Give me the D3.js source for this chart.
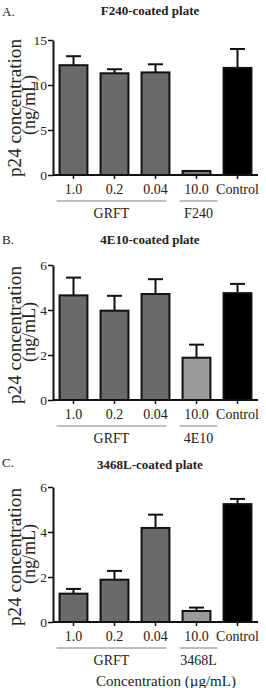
<!DOCTYPE html>
<html>
<head>
<meta charset="utf-8">
<script src="https://cdn.jsdelivr.net/npm/d3@7"></script>
<style>
  body { margin: 0; background: #fff; }
  svg { display: block; font-family: 'Liberation Serif', 'DejaVu Serif', serif; }
</style>
</head>
<body>
<div id="wrapper"></div>
<script>
// 1. Data
const categories = ['1.0', '0.2', '0.04', '10.0', 'Control']
const panelLetters = ['A.', 'B.', 'C.']
const panelTitles = ['F240-coated plate', '4E10-coated plate', '3468L-coated plate']
const inhibitorNames = ['F240', '4E10', '3468L']
const yMaxes = [15, 6, 6]
const yTickValues = [[0, 5, 10, 15], [0, 2, 4, 6], [0, 2, 4, 6]]

const meansA = [12.2, 11.3, 11.4, 0.45, 11.9]
const errorsA = [1.0, 0.45, 0.9, 0, 2.1]
const meansB = [4.65, 3.97, 4.71, 1.88, 4.75]
const errorsB = [0.79, 0.66, 0.66, 0.58, 0.41]
const meansC = [1.26, 1.88, 4.18, 0.49, 5.24]
const errorsC = [0.21, 0.39, 0.59, 0.15, 0.23]

const allMeans = [meansA, meansB, meansC]
const allErrors = [errorsA, errorsB, errorsC]

// 2. Dimensions
const dimensions = {
  width: 266,
  height: 688,
  axisLeft: 53,
  axisRight: 258,
}
// y-axis top / bottom, title and letter baselines, y-label centre, per panel
const panels = [
  { top: 40, bottom: 175, titleY: 15, letterY: 16, labelY: 108 },
  { top: 265, bottom: 400, titleY: 244, letterY: 244, labelY: 335 },
  { top: 487, bottom: 622, titleY: 469, letterY: 467, labelY: 557 },
]

const barFill = (i, p) => {
  if (i === 4) return '#000'
  if (i === 3) return p === 0 ? '#7a7a7a' : '#9a9a9a'
  return '#6a6a6a'
}

// 3. Canvas
const wrapper = d3
  .select('#wrapper')
  .append('svg')
  .attr('width', dimensions.width)
  .attr('height', dimensions.height)

const xScale = d3
  .scaleBand()
  .domain(categories)
  .range([dimensions.axisLeft, dimensions.axisRight])
  .paddingInner(0.32)
  .paddingOuter(0.16)

panels.forEach((panel, p) => {
  const means = allMeans[p]
  const errors = allErrors[p]
  const g = wrapper.append('g')

  const yScale = d3
    .scaleLinear()
    .domain([0, yMaxes[p]])
    .range([panel.bottom, panel.top])

  // title and panel letter
  g.append('text')
    .attr('x', 2)
    .attr('y', panel.letterY)
    .attr('font-size', 13)
    .attr('fill', '#222')
    .text(panelLetters[p])

  g.append('text')
    .attr('x', 150)
    .attr('y', panel.titleY)
    .attr('text-anchor', 'middle')
    .attr('font-size', 13)
    .attr('font-weight', 'bold')
    .attr('fill', '#222')
    .text(panelTitles[p])

  // 4. Bars
  const barData = categories.map((c, i) => ({ c, i, mean: means[i], err: errors[i] }))

  g.selectAll('.err')
    .data(barData.filter((d) => d.err > 0))
    .join('g')
    .each(function (d) {
      const cx = xScale(d.c) + xScale.bandwidth() / 2
      const sel = d3.select(this)
      sel.append('line')
        .attr('x1', cx).attr('x2', cx)
        .attr('y1', yScale(d.mean)).attr('y2', yScale(d.mean + d.err))
        .attr('stroke', '#111').attr('stroke-width', 2)
      sel.append('line')
        .attr('x1', cx - 7.5).attr('x2', cx + 7.5)
        .attr('y1', yScale(d.mean + d.err)).attr('y2', yScale(d.mean + d.err))
        .attr('stroke', '#111').attr('stroke-width', 2)
    })

  g.selectAll('.bar')
    .data(barData)
    .join('rect')
    .attr('x', (d) => xScale(d.c))
    .attr('width', xScale.bandwidth())
    .attr('y', (d) => yScale(d.mean))
    .attr('height', (d) => yScale(0) - yScale(d.mean))
    .attr('fill', (d) => barFill(d.i, p))
    .attr('stroke', '#111')
    .attr('stroke-width', 2)

  // 5. Axes
  const yAxis = g
    .append('g')
    .attr('transform', `translate(${dimensions.axisLeft},0)`)
    .call(
      d3.axisLeft(yScale)
        .tickValues(yTickValues[p])
        .tickFormat(d3.format('d'))
        .tickSize(5)
        .tickSizeOuter(0)
        .tickPadding(1),
    )
  yAxis.select('.domain').attr('stroke', '#111').attr('stroke-width', 2)
  yAxis.selectAll('.tick line').attr('stroke', '#111').attr('stroke-width', 1.5)
  yAxis.selectAll('.tick text').attr('font-size', 13.5).attr('fill', '#222')
    .attr('font-family', "'Liberation Serif', serif")

  const xAxis = g
    .append('g')
    .attr('transform', `translate(0,${panel.bottom})`)
    .call(d3.axisBottom(xScale).tickSize(4).tickSizeOuter(0).tickPadding(5))
  xAxis.select('.domain')
    .attr('d', `M${dimensions.axisLeft},0H${dimensions.axisRight}`)
    .attr('stroke', '#111').attr('stroke-width', 2)
  xAxis.selectAll('.tick line').attr('stroke', '#111').attr('stroke-width', 1.5)
  xAxis.selectAll('.tick text').attr('font-size', 14).attr('fill', '#222')
    .attr('font-family', "'Liberation Serif', serif")

  // group underlines
  const groups = [
    { name: 'GRFT', from: categories[0], to: categories[2] },
    { name: inhibitorNames[p], from: categories[3], to: categories[3] },
  ]
  groups.forEach((grp) => {
    const x1 = xScale(grp.from) - 3
    const x2 = xScale(grp.to) + xScale.bandwidth() + (grp.from === grp.to ? 7 : -3)
    g.append('line')
      .attr('x1', x1).attr('x2', x2)
      .attr('y1', panel.bottom + 26).attr('y2', panel.bottom + 26)
      .attr('stroke', '#aaa').attr('stroke-width', 1.5)
    g.append('text')
      .attr('x', (x1 + x2) / 2)
      .attr('y', panel.bottom + 43)
      .attr('text-anchor', 'middle')
      .attr('font-size', 14)
      .attr('fill', '#222')
      .text(grp.name)
  })

  // y label
  g.append('text')
    .attr('transform', `translate(20.5,${panel.labelY}) rotate(-90)`)
    .attr('text-anchor', 'middle')
    .attr('font-size', 19)
    .attr('fill', '#222')
    .attr('textLength', 138)
    .attr('lengthAdjust', 'spacingAndGlyphs')
    .text('p24 concentration')
  g.append('text')
    .attr('transform', `translate(34.5,${panel.labelY - 3}) rotate(-90)`)
    .attr('text-anchor', 'middle')
    .attr('font-size', 18)
    .attr('fill', '#222')
    .text('(ng/mL)')
})

// shared x label
wrapper.append('text')
  .attr('x', 166)
  .attr('y', 686)
  .attr('text-anchor', 'middle')
  .attr('font-size', 15)
  .attr('fill', '#222')
  .text('Concentration (µg/mL)')
</script>
</body>
</html>
